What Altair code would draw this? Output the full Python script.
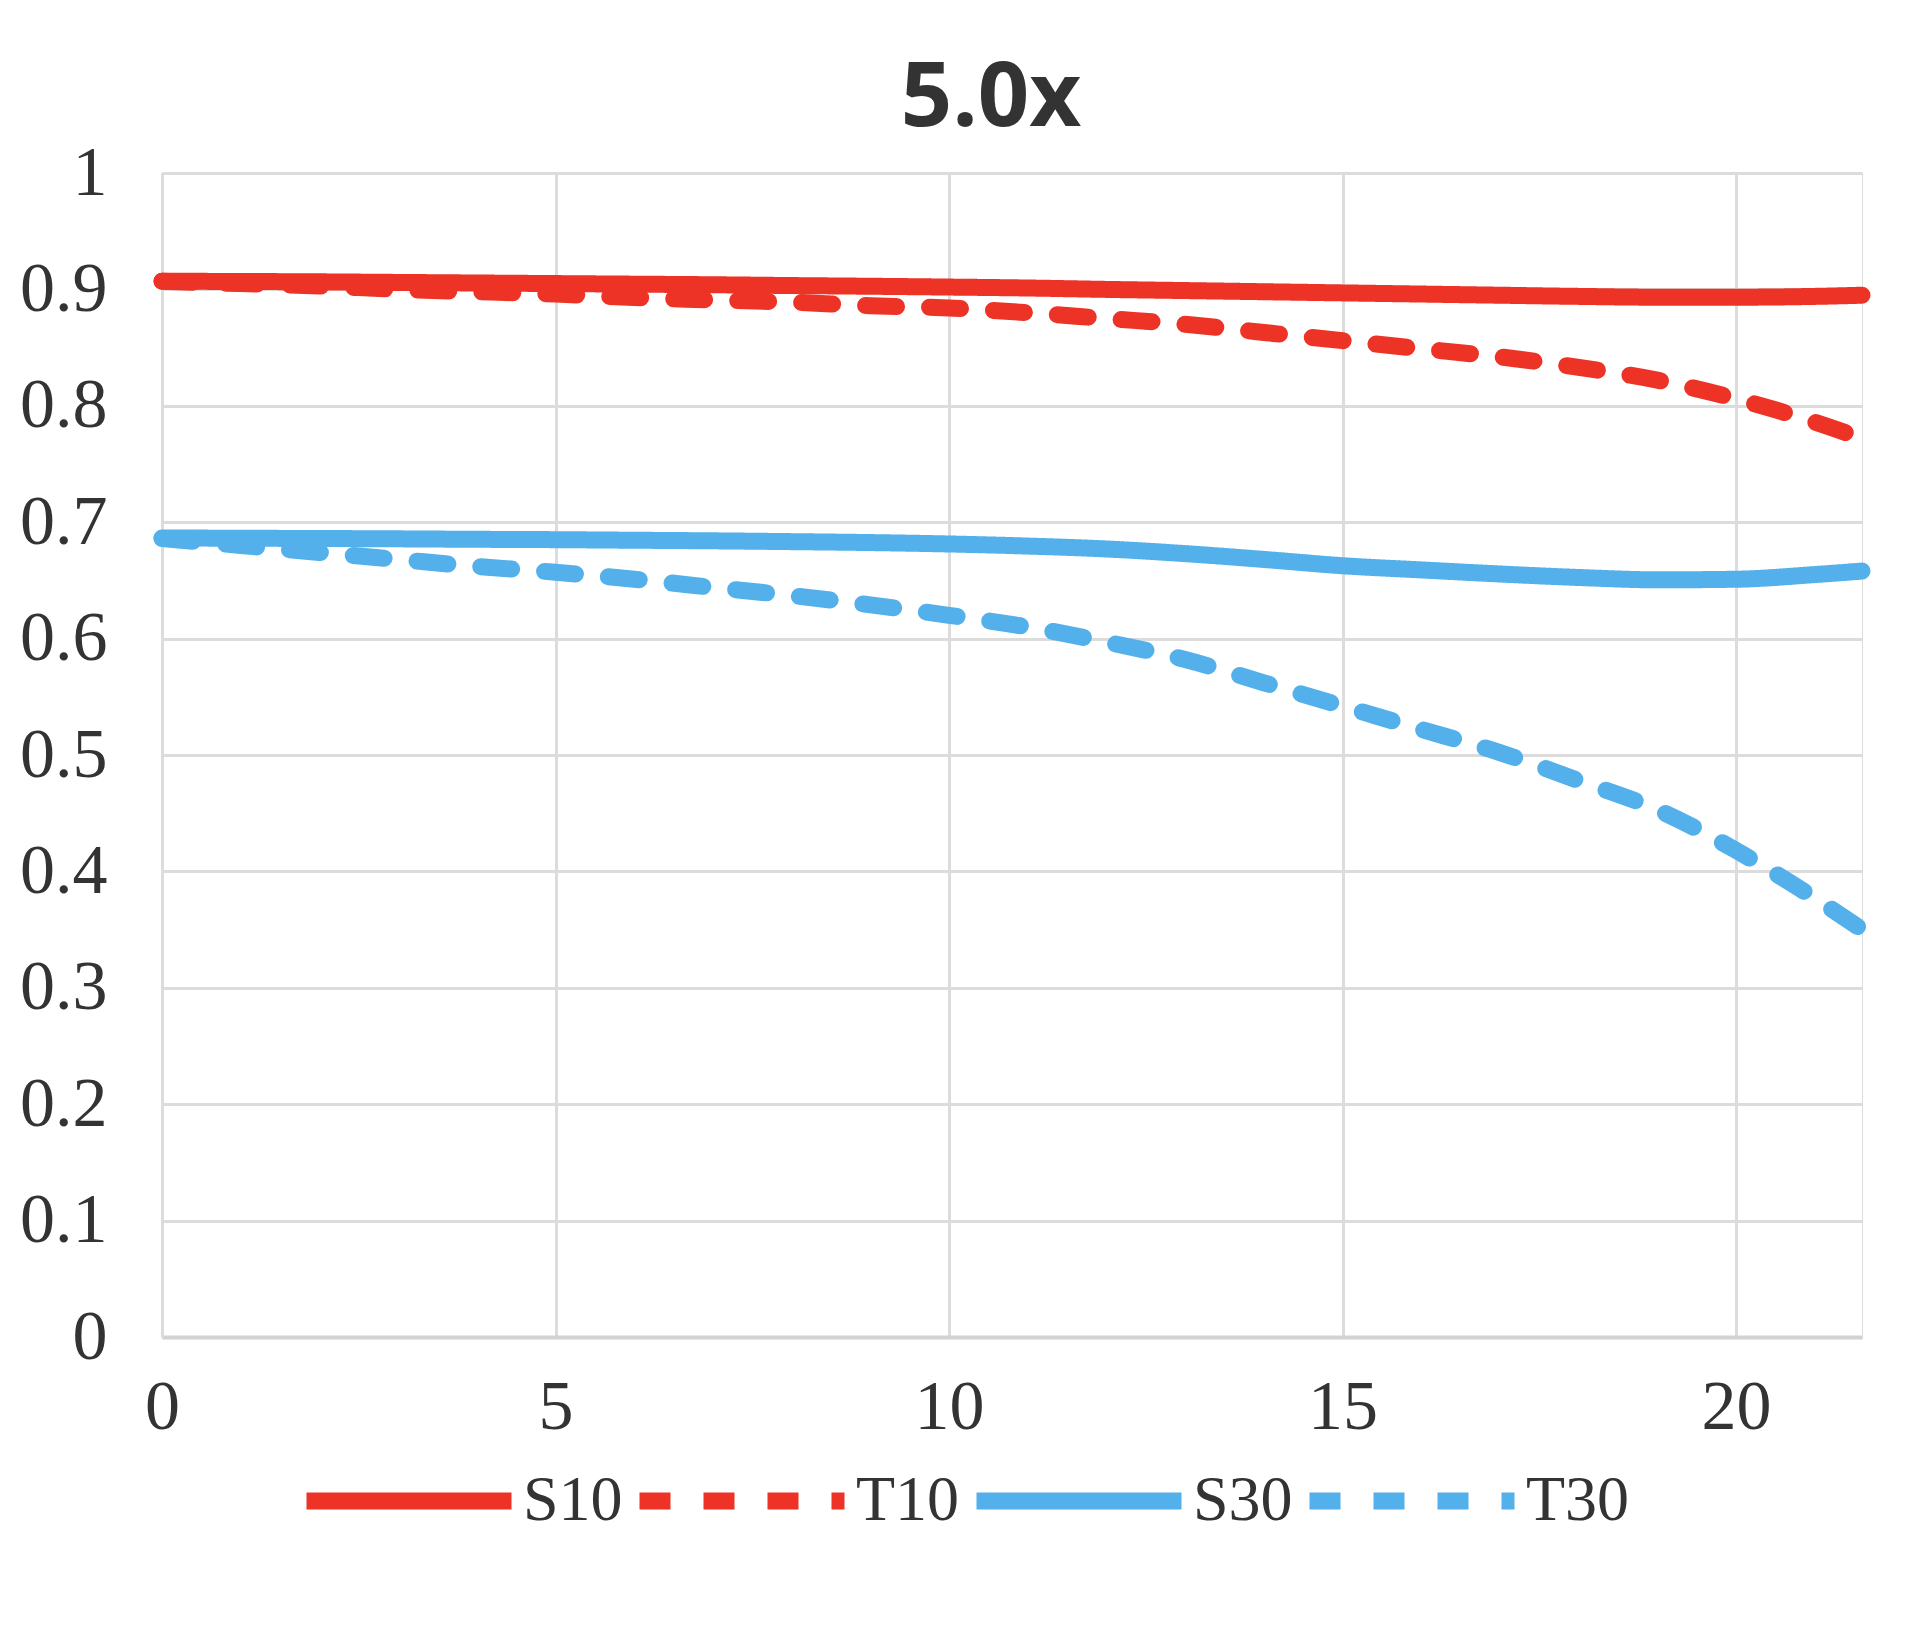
import altair as alt
import pandas as pd

# ---- data ----
x_vals = [0, 1, 2, 3, 4, 5, 6, 7, 8, 9, 10, 11, 12, 13, 14, 15, 16, 17, 18, 19, 20, 21, 21.6]
S10 = [0.907, 0.9068, 0.9065, 0.906, 0.9055, 0.905, 0.9045, 0.904, 0.9033, 0.9027, 0.902, 0.9012,
       0.900, 0.899, 0.898, 0.897, 0.896, 0.895, 0.894, 0.8933, 0.8933, 0.894, 0.895]
T10 = [0.907, 0.905, 0.903, 0.900, 0.898, 0.896, 0.893, 0.891, 0.889, 0.886, 0.884, 0.880,
       0.875, 0.870, 0.863, 0.856, 0.849, 0.842, 0.833, 0.822, 0.806, 0.786, 0.772]
S30 = [0.6865, 0.6862, 0.686, 0.6857, 0.6853, 0.685, 0.6845, 0.684, 0.6833, 0.6825, 0.6813, 0.6795,
       0.677, 0.673, 0.668, 0.6626, 0.659, 0.6555, 0.6525, 0.6505, 0.651, 0.655, 0.658]
T30 = [0.686, 0.680, 0.674, 0.668, 0.662, 0.657, 0.651, 0.644, 0.637, 0.629, 0.620, 0.610,
       0.597, 0.582, 0.562, 0.542, 0.522, 0.502, 0.478, 0.453, 0.418, 0.377, 0.350]

series_names = ["S10", "T10", "S30", "T30"]
series_values = [S10, T10, S30, T30]
series_colors = ["#EC3326", "#EC3326", "#53B0EA", "#53B0EA"]
series_dash = [[1, 0], [31, 33], [1, 0], [31, 33]]

x_ticks = [0, 5, 10, 15, 20]
y_ticks = [0, 0.1, 0.2, 0.3, 0.4, 0.5, 0.6, 0.7, 0.8, 0.9, 1]
title_text = "5.0x"

rows = []
for name, vals in zip(series_names, series_values):
    for xv, yv in zip(x_vals, vals):
        rows.append({"x": xv, "y": yv, "series": name})
df = pd.DataFrame(rows)

SERIF = "Liberation Serif"
GRID = "#DCDCDC"

chart = (
    alt.Chart(df)
    .mark_line(strokeWidth=17, strokeCap="round", strokeJoin="round", interpolate="monotone")
    .encode(
        x=alt.X("x:Q",
                scale=alt.Scale(domain=[0, 21.6], nice=False, zero=False),
                axis=alt.Axis(values=x_ticks, title=None, ticks=False, labelPadding=36,
                              labelFont=SERIF, labelFontSize=70, labelColor="#333333",
                              grid=True, gridColor=GRID, gridWidth=3,
                              domainColor="#D2D2D2", domainWidth=4, labelFlush=False)),
        y=alt.Y("y:Q",
                scale=alt.Scale(domain=[0, 1], nice=False),
                axis=alt.Axis(values=y_ticks, title=None, ticks=False, labelPadding=55,
                              format="~g", labelFont=SERIF, labelFontSize=70,
                              labelColor="#333333", labelBaseline="middle",
                              grid=True, gridColor=GRID, gridWidth=3,
                              domainColor=GRID, domainWidth=3)),
        color=alt.Color("series:N",
                        scale=alt.Scale(domain=series_names, range=series_colors),
                        legend=alt.Legend(title=None, orient="none", direction="horizontal",
                                          legendX=136, legendY=1293,
                                          symbolType="stroke", symbolSize=42025,
                                          symbolStrokeWidth=17, clipHeight=70,
                                          labelFont=SERIF, labelFontSize=64,
                                          labelColor="#333333", labelOffset=3,
                                          columnPadding=8)),
        strokeDash=alt.StrokeDash("series:N",
                                  scale=alt.Scale(domain=series_names, range=series_dash),
                                  legend=None),
    )
    .properties(
        width=1700,
        height=1164,
        title=alt.TitleParams(title_text, font="Open Sans", fontSize=90, fontWeight="bold",
                              color="#333333", anchor="middle", dx=-21, offset=30, dy=37),
        autosize=alt.AutoSizeParams(type="none"),
        padding={"left": 154, "top": 165, "right": 40, "bottom": 282},
    )
    .configure_view(stroke=GRID, strokeWidth=3)
    .configure(background="white")
)

chart.save("out.html", embed_options={"renderer": "svg", "actions": False})
